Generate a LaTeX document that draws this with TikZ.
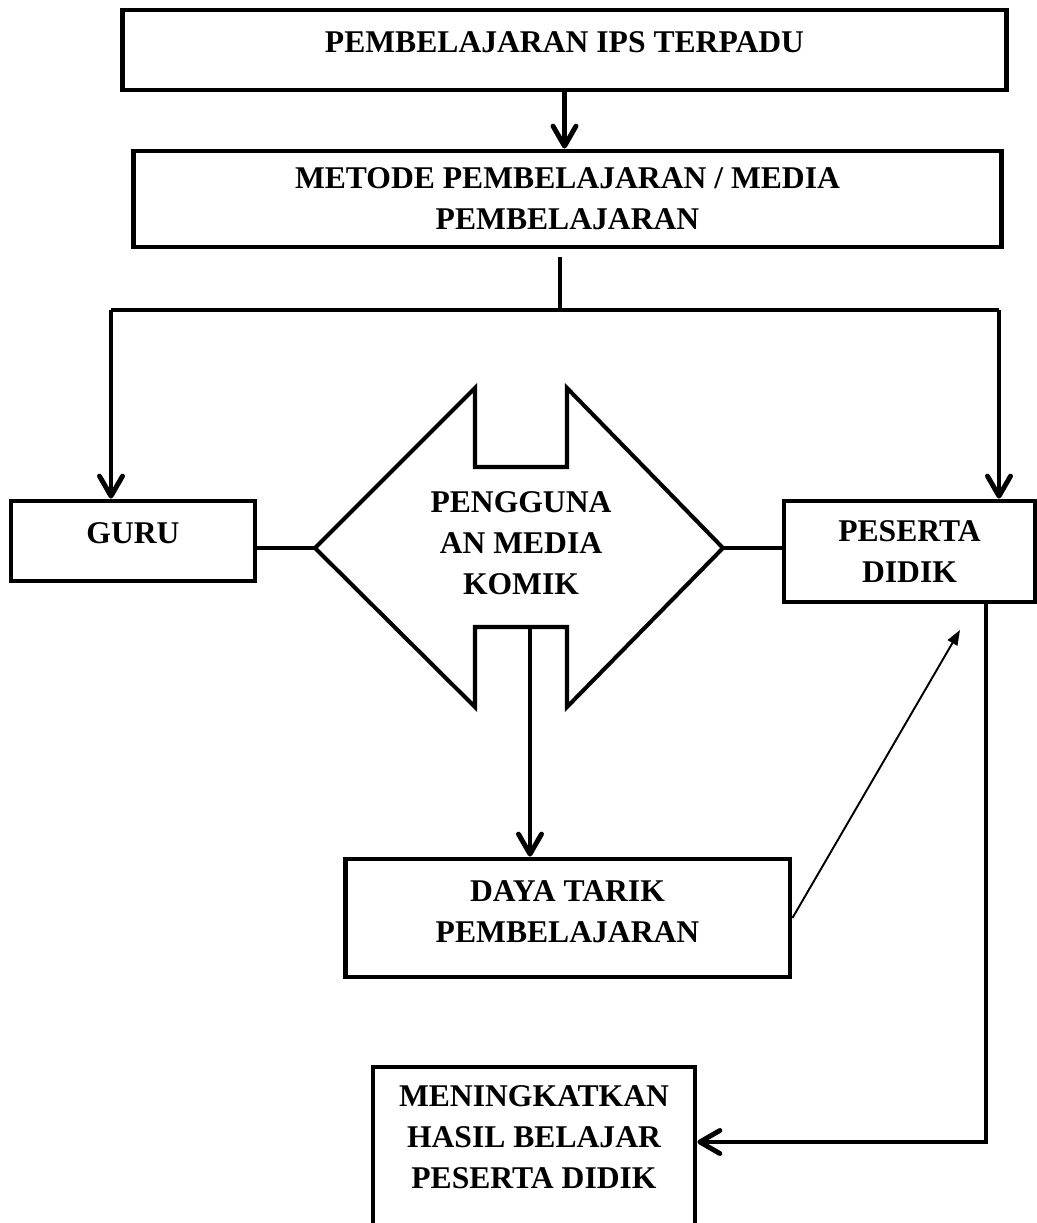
\documentclass[tikz,border=0pt]{standalone}
\usepackage{fontspec}
\setmainfont{Liberation Serif}
\usetikzlibrary{arrows.meta}
\newcommand{\sinkline}[1]{\rule[-#1]{0pt}{#1}}

\begin{document}
\begin{tikzpicture}[x=0.02cm, y=-0.02cm,
        txt/.style={align=center, font=\bfseries\fontsize{18}{23.3}\selectfont},
        box/.style={rectangle, draw=black, line width=2.8pt, inner sep=0pt, txt},
        plain/.style={line width=2.8pt},
        flow/.style={line width=2.8pt, -{Straight Barb[length=0.4cm, width=0.46cm, round]}},
        thinflow/.style={line width=1.1pt, -{Triangle[length=0.3cm, width=0.22cm]}}]
        \useasboundingbox (0,0) rectangle (1036,1223);

        \node[box, minimum width=17.7cm, minimum height=1.6cm] (ips) at (564.5,50) {PEMBELAJARAN IPS TERPADU\sinkline{0.32cm}};
        \node[box, minimum width=17.38cm, minimum height=1.92cm] (metode) at (567.5,199) {METODE PEMBELAJARAN / MEDIA\\PEMBELAJARAN};
        \node[box, minimum width=4.88cm, minimum height=1.6cm] (guru) at (133,541) {GURU\sinkline{0.32cm}};
        \node[box, minimum width=5.02cm, minimum height=2.02cm] (peserta) at (909.5,551.5) {PESERTA\\DIDIK};
        \node[box, minimum width=8.9cm, minimum height=2.36cm] (daya) at (567.5,918) {DAYA TARIK\\PEMBELAJARAN\sinkline{0.24cm}};
        \node[box, minimum width=6.44cm, minimum height=3.46cm] (hasil) at (534,1153.5) {MENINGKATKAN\\HASIL BELAJAR\\PESERTA DIDIK\sinkline{0.66cm}};

        \draw[line width=2.3pt, line join=miter] (315,548) -- (475,388) -- (475,467) -- (567,467) -- (567,388)
            -- (723,548) -- (567,707) -- (567,627) -- (475,627) -- (475,707) -- cycle;
        \node[txt, inner sep=0pt] (komik) at (521,543) {PENGGUNA\\AN MEDIA\\KOMIK};

        \coordinate (komikL) at (315,548);
        \coordinate (komikR) at (723,548);
        \coordinate (komikB) at (530,627);
        \coordinate (stem) at (560,257);
        \coordinate (splitL) at (111,310);
        \coordinate (splitR) at (999,310);
        \coordinate (pesertaIn) at (960,630);
        \coordinate (turn) at (986,1142);

        \draw[flow] (ips.south) -- (ips.south |- metode.north);
        \draw[plain] (stem) -- (stem |- splitL);
        \draw[plain] (splitL) -- (splitR);
        \draw[flow] (splitL) -- (guru.north -| splitL);
        \draw[flow] (splitR) -- (peserta.north -| splitR);
        \draw[plain] (guru.east |- komikL) -- (komikL);
        \draw[plain] (komikR) -- (peserta.west |- komikR);
        \draw[flow] (komikB) -- (komikB |- daya.north);
        \draw[thinflow] (daya.east) -- (pesertaIn);
        \draw[flow] (peserta.south -| turn) -- (turn) -- (turn -| hasil.east);
\end{tikzpicture}
\end{document}
